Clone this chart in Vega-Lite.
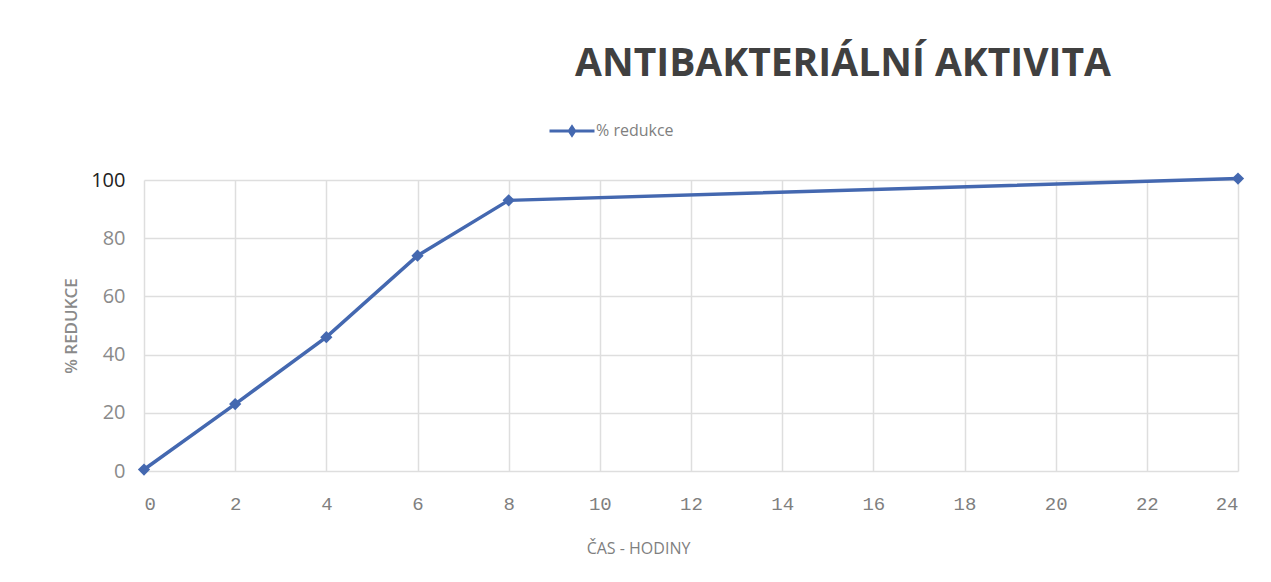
{
  "$schema": "https://vega.github.io/schema/vega-lite/v6.json",
  "autosize": "none",
  "width": 1094,
  "height": 291,
  "padding": {"left": 144, "top": 180, "right": 33, "bottom": 111},
  "background": "white",
  "title": {
    "text": "ANTIBAKTERIÁLNÍ AKTIVITA",
    "anchor": "middle",
    "dx": 152,
    "offset": 32,
    "fontSize": 39,
    "font": "Open Sans",
    "fontWeight": "bold",
    "color": "#404040"
  },
  "data": {
    "values": [
      {"cas": 0, "redukce": 0.5, "series": "% redukce"},
      {"cas": 2, "redukce": 23, "series": "% redukce"},
      {"cas": 4, "redukce": 46, "series": "% redukce"},
      {"cas": 6, "redukce": 74, "series": "% redukce"},
      {"cas": 8, "redukce": 93, "series": "% redukce"},
      {"cas": 24, "redukce": 100.5, "series": "% redukce"}
    ]
  },
  "mark": {
    "type": "line",
    "strokeWidth": 3.5,
    "point": {"shape": "diamond", "size": 150, "filled": true}
  },
  "encoding": {
    "x": {
      "field": "cas",
      "type": "quantitative",
      "scale": {"domain": [0, 24], "nice": false, "zero": true},
      "axis": {
        "values": [0, 2, 4, 6, 8, 10, 12, 14, 16, 18, 20, 22, 24],
        "title": "ČAS - HODINY",
        "titleFont": "Open Sans",
        "titleFontSize": 16,
        "titleFontWeight": "normal",
        "titleColor": "#7f7f7f",
        "titleX": 494,
        "titleY": 77,
        "titleBaseline": "middle",
        "titleAlign": "center",
        "labelFont": "Liberation Mono",
        "labelFontSize": 19,
        "labelColor": "#7f7f7f",
        "labelPadding": 23,
        "domain": false,
        "ticks": false,
        "grid": true,
        "gridColor": "#dedede",
        "gridWidth": 1.5
      }
    },
    "y": {
      "field": "redukce",
      "type": "quantitative",
      "scale": {"domain": [0, 100], "nice": false},
      "axis": {
        "values": [0, 20, 40, 60, 80, 100],
        "title": "% REDUKCE",
        "titleFont": "Open Sans",
        "titleFontSize": 17,
        "titleFontWeight": 600,
        "titleColor": "#8a8a8a",
        "titlePadding": 10,
        "labelFont": "Open Sans",
        "labelFontSize": 20,
        "labelColor": {"condition": {"test": "datum.value == 100", "value": "#222222"}, "value": "#8a8a8a"},
        "labelPadding": 19,
        "domain": false,
        "ticks": false,
        "grid": true,
        "gridColor": "#dedede",
        "gridWidth": 1.5
      }
    },
    "color": {
      "field": "series",
      "type": "nominal",
      "scale": {"range": ["#4468b0"]},
      "legend": {
        "title": null,
        "orient": "none",
        "legendX": 413,
        "legendY": -64,
        "symbolType": "M-1.5,-0.1L1.5,-0.1L1.5,0.1L-1.5,0.1Z M0,-0.45L0.3,0L0,0.45L-0.3,0Z",
        "symbolSize": 900,
        "symbolStrokeWidth": 0,
        "symbolFillColor": "#4468b0",
        "labelFont": "Open Sans",
        "labelFontSize": 16,
        "labelColor": "#7f7f7f",
        "labelOffset": 9
      }
    }
  },
  "config": {"view": {"stroke": null}}
}
